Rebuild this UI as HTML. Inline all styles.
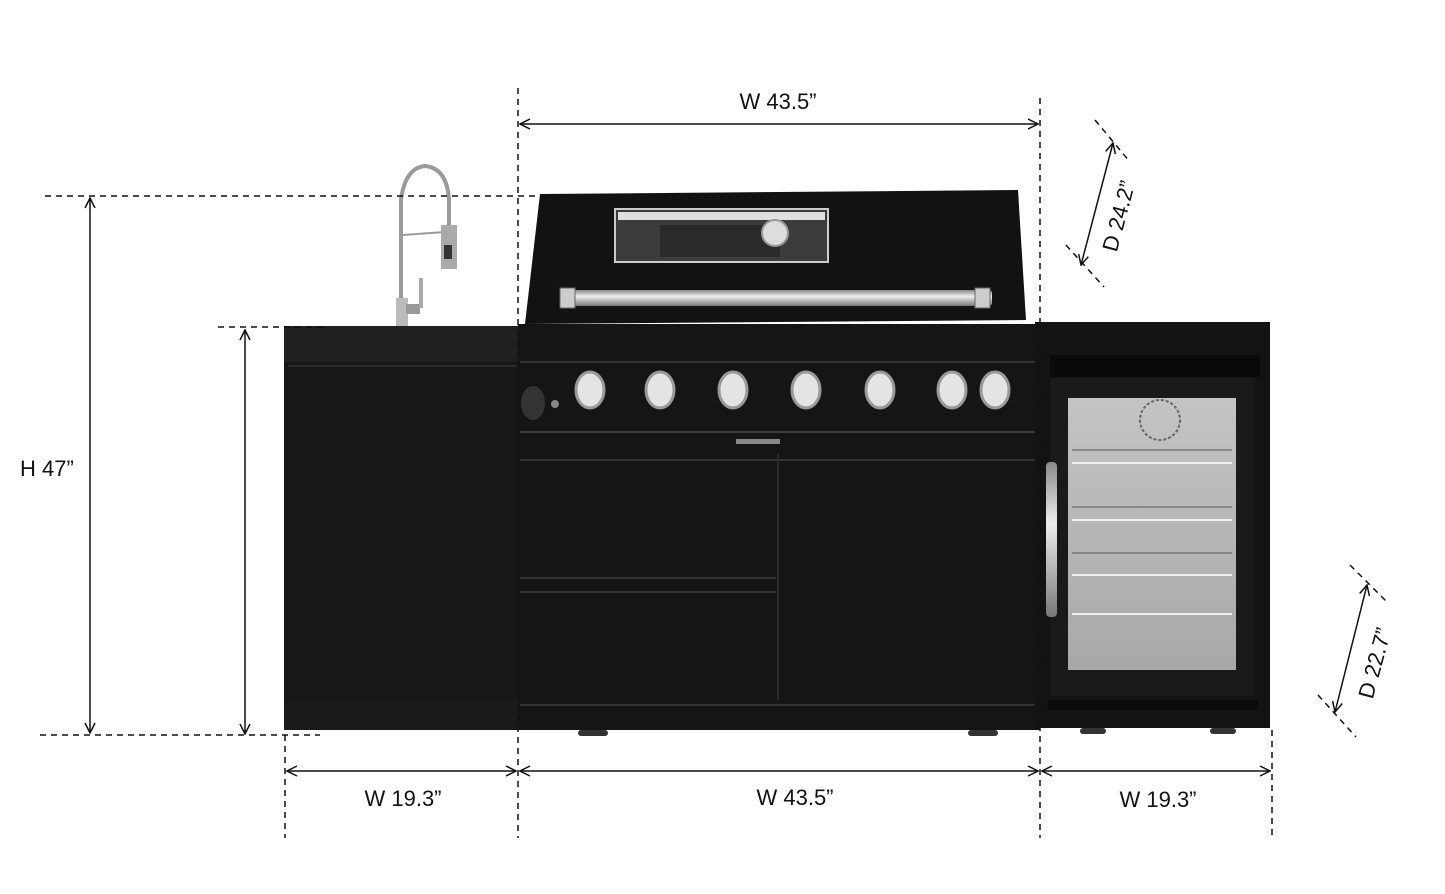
<!DOCTYPE html>
<html><head><meta charset="utf-8"><style>
html,body{margin:0;padding:0;background:#fff;}
svg{display:block;}
text{font-family:"Liberation Sans",sans-serif;font-size:22px;fill:#111;}
</style></head><body>
<svg width="1445" height="894" viewBox="0 0 1445 894" xmlns="http://www.w3.org/2000/svg">
<defs>
<marker id="a" viewBox="0 0 12 12" refX="11" refY="6" markerWidth="12" markerHeight="12" orient="auto-start-reverse" markerUnits="userSpaceOnUse">
<path d="M1,1 L11,6 L1,11" fill="none" stroke="#111" stroke-width="1.5"/></marker>
<linearGradient id="glass" x1="0" y1="0" x2="0" y2="1"><stop offset="0" stop-color="#c4c4c4"/><stop offset="1" stop-color="#a8a8a8"/></linearGradient>
<linearGradient id="steel" x1="0" y1="0" x2="0" y2="1"><stop offset="0" stop-color="#888"/><stop offset=".4" stop-color="#eee"/><stop offset="1" stop-color="#777"/></linearGradient>
</defs>

<!-- left sink cabinet -->
<rect x="284" y="326" width="236" height="404" fill="#171717"/>
<rect x="284" y="326" width="236" height="36" fill="#202020"/>
<line x1="288" y1="366" x2="518" y2="366" stroke="#2c2c2c" stroke-width="2"/>
<rect x="284" y="702" width="236" height="28" fill="#1a1a1a"/>
<!-- faucet -->
<g fill="none" stroke="#9a9a9a" stroke-width="4">
<path d="M401,326 L401,200 Q405,168 425,166 Q447,168 449,200 L449,225"/>
<line x1="403" y1="235" x2="445" y2="232" stroke-width="2"/>
</g>
<rect x="441" y="225" width="16" height="44" fill="#aaa"/>
<rect x="444" y="245" width="8" height="14" fill="#333"/>
<rect x="396" y="298" width="12" height="28" fill="#bbb"/>
<rect x="406" y="304" width="14" height="10" fill="#999"/>
<rect x="419" y="278" width="4" height="30" fill="#aaa"/>

<!-- grill hood -->
<path d="M540,194 L1018,190 L1026,320 L525,324 Z" fill="#121212"/>
<rect x="615" y="209" width="213" height="53" fill="#3c3c3c" stroke="#ccc" stroke-width="2"/>
<rect x="618" y="212" width="207" height="8" fill="#e0e0e0"/>
<rect x="660" y="225" width="120" height="32" fill="#2a2a2a"/>
<circle cx="775" cy="233" r="13" fill="#ddd" stroke="#999" stroke-width="2"/>
<rect x="560" y="290" width="432" height="16" rx="3" fill="url(#steel)"/>
<rect x="560" y="288" width="15" height="20" fill="#ccc" stroke="#666"/>
<rect x="975" y="288" width="15" height="20" fill="#ccc" stroke="#666"/>
<!-- grill body -->
<rect x="518" y="324" width="522" height="406" fill="#151515"/>
<line x1="520" y1="362" x2="1038" y2="362" stroke="#333" stroke-width="2"/>
<line x1="520" y1="432" x2="1038" y2="432" stroke="#3c3c3c" stroke-width="2"/>
<rect x="736" y="439" width="44" height="5" fill="#888"/>
<line x1="520" y1="460" x2="1035" y2="460" stroke="#333" stroke-width="2"/>
<line x1="778" y1="454" x2="778" y2="700" stroke="#333" stroke-width="1.5"/>
<line x1="520" y1="578" x2="776" y2="578" stroke="#333" stroke-width="2"/>
<line x1="520" y1="592" x2="776" y2="592" stroke="#333" stroke-width="2"/>
<line x1="520" y1="705" x2="1035" y2="705" stroke="#333" stroke-width="2"/>
<ellipse cx="533" cy="403" rx="12" ry="17" fill="#333"/>
<circle cx="555" cy="404" r="4" fill="#888"/>
<g fill="#e4e4e4" stroke="#999" stroke-width="3">
<ellipse cx="590" cy="390" rx="14" ry="18"/><ellipse cx="660" cy="390" rx="14" ry="18"/>
<ellipse cx="733" cy="390" rx="14" ry="18"/><ellipse cx="806" cy="390" rx="14" ry="18"/>
<ellipse cx="880" cy="390" rx="14" ry="18"/><ellipse cx="952" cy="390" rx="14" ry="18"/>
<ellipse cx="995" cy="390" rx="14" ry="18"/>
</g>
<g fill="#333"><rect x="578" y="730" width="30" height="6" rx="3"/><rect x="968" y="730" width="30" height="6" rx="3"/>
<rect x="1080" y="728" width="26" height="6" rx="3"/><rect x="1210" y="728" width="26" height="6" rx="3"/></g>

<!-- fridge cabinet -->
<rect x="1035" y="322" width="235" height="406" fill="#131313"/>
<rect x="1050" y="355" width="210" height="22" fill="#0a0a0a"/>
<rect x="1050" y="378" width="205" height="318" fill="#1a1a1a"/>
<rect x="1068" y="398" width="168" height="272" fill="url(#glass)"/>
<circle cx="1160" cy="420" r="20" fill="none" stroke="#666" stroke-width="2" stroke-dasharray="3 2"/>
<g stroke="#eee" stroke-width="2"><line x1="1072" y1="463" x2="1232" y2="463"/><line x1="1072" y1="520" x2="1232" y2="520"/><line x1="1072" y1="575" x2="1232" y2="575"/><line x1="1072" y1="614" x2="1232" y2="614"/></g>
<g stroke="#777" stroke-width="1.5"><line x1="1072" y1="450" x2="1232" y2="450"/><line x1="1072" y1="507" x2="1232" y2="507"/><line x1="1072" y1="553" x2="1232" y2="553"/></g>
<rect x="1046" y="462" width="11" height="155" rx="4" fill="url(#steel)"/>
<rect x="1048" y="700" width="210" height="10" fill="#0a0a0a"/>

<!-- dashed extension lines -->
<g stroke="#111" stroke-width="1.5" stroke-dasharray="6 5" fill="none">
<line x1="518" y1="88" x2="518" y2="838"/>
<line x1="1040" y1="98" x2="1040" y2="838"/>
<line x1="285" y1="735" x2="285" y2="838"/>
<line x1="1272" y1="730" x2="1272" y2="838"/>
<line x1="45" y1="196" x2="540" y2="196"/>
<line x1="218" y1="327" x2="328" y2="327"/>
<line x1="40" y1="735" x2="320" y2="735"/>
<line x1="1095" y1="120" x2="1130" y2="162"/>
<line x1="1066" y1="245" x2="1104" y2="287"/>
<line x1="1350" y1="565" x2="1388" y2="603"/>
<line x1="1318" y1="695" x2="1356" y2="737"/>
</g>
<!-- arrows -->
<g stroke="#111" stroke-width="1.5" marker-start="url(#a)" marker-end="url(#a)">
<line x1="520" y1="124" x2="1038" y2="124"/>
<line x1="90" y1="198" x2="90" y2="733"/>
<line x1="245" y1="330" x2="245" y2="734"/>
<line x1="287" y1="771" x2="516" y2="771"/>
<line x1="520" y1="771" x2="1038" y2="771"/>
<line x1="1042" y1="771" x2="1270" y2="771"/>
<line x1="1081" y1="265" x2="1113" y2="143"/>
<line x1="1335" y1="712" x2="1367" y2="585"/>
</g>
<!-- labels -->
<text x="778" y="109" text-anchor="middle">W 43.5”</text>
<text x="20" y="476">H 47”</text>
<text x="403" y="806" text-anchor="middle">W 19.3”</text>
<text x="795" y="805" text-anchor="middle">W 43.5”</text>
<text x="1158" y="807" text-anchor="middle">W 19.3”</text>
<text transform="translate(1126,218) rotate(-75)" text-anchor="middle">D 24.2”</text>
<text transform="translate(1382,665) rotate(-75)" text-anchor="middle">D 22.7”</text>
</svg>
</body></html>
